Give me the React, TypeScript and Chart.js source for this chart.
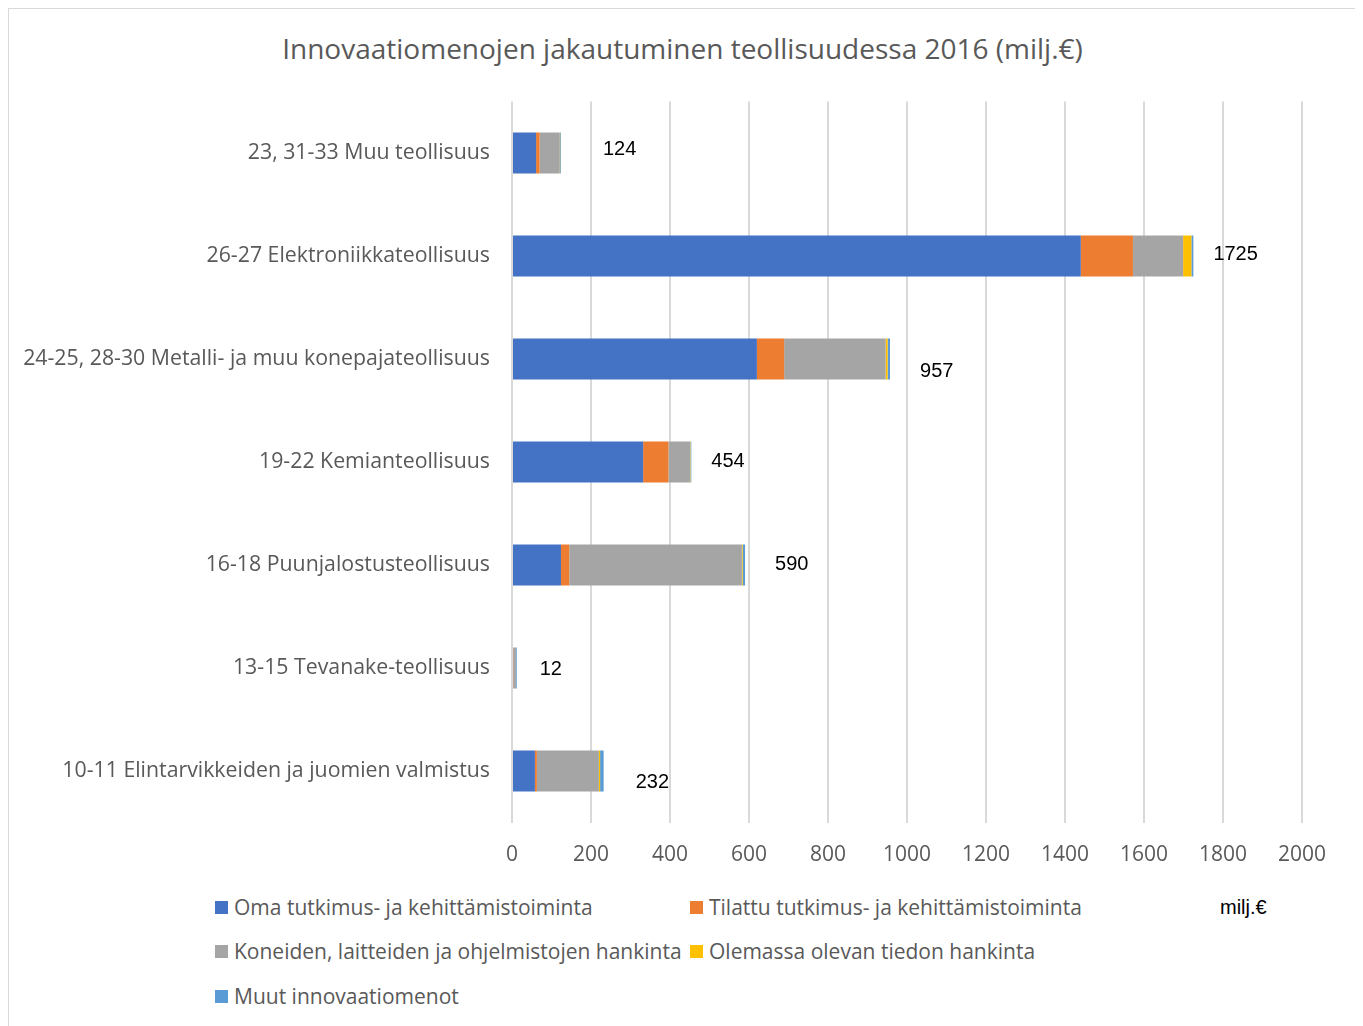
import React, { useEffect, useRef } from "react";
import { Chart, registerables } from "chart.js";

Chart.register(...registerables);

const categories = [
  "23, 31-33 Muu teollisuus",
  "26-27 Elektroniikkateollisuus",
  "24-25, 28-30 Metalli- ja muu konepajateollisuus",
  "19-22 Kemianteollisuus",
  "16-18 Puunjalostusteollisuus",
  "13-15 Tevanake-teollisuus",
  "10-11 Elintarvikkeiden ja juomien valmistus",
];

const seriesNames = [
  "Oma tutkimus- ja kehittämistoiminta",
  "Tilattu tutkimus- ja kehittämistoiminta",
  "Koneiden, laitteiden ja ohjelmistojen hankinta",
  "Olemassa olevan tiedon hankinta",
  "Muut innovaatiomenot",
];

const omaTK = [61, 1440, 620, 332, 124, 3, 58];
const tilattuTK = [9, 132, 69, 64, 21, 1, 5];
const koneidenHankinta = [51, 127, 257, 55, 437, 6, 157];
const tiedonHankinta = [1, 21, 5, 1, 2, 0, 3];
const muutMenot = [2, 5, 6, 2, 6, 2, 9];

const xTicks = [0, 200, 400, 600, 800, 1000, 1200, 1400, 1600, 1800, 2000];

const chartTitle = "Innovaatiomenojen jakautuminen teollisuudessa 2016 (milj.€)";
const unitLabel = "milj.€";

// styling
const colors = ["#4472C4", "#ED7D31", "#A5A5A5", "#FFC000", "#5B9BD5"];
const labelNudge = [
  [42, -4],
  [20, -2],
  [30, 12],
  [20, -1],
  [30, -1],
  [23, 1],
  [32, 11],
];

const FONT = "'Open Sans', Lato, sans-serif";
const TEXT = "#595959";

const totalsPlugin = {
  id: "totals",
  afterDatasetsDraw(chart: any) {
    const ctx = chart.ctx;
    const xs = chart.scales.x;
    const ys = chart.scales.y;
    ctx.save();
    ctx.font = "20px 'Liberation Sans', Arial, sans-serif";
    ctx.fillStyle = "#000000";
    ctx.textAlign = "left";
    ctx.textBaseline = "middle";
    categories.forEach((_, i) => {
      const total =
        omaTK[i] + tilattuTK[i] + koneidenHankinta[i] + tiedonHankinta[i] + muutMenot[i];
      const x = xs.getPixelForValue(total) + labelNudge[i][0];
      const y = ys.getPixelForValue(i) + labelNudge[i][1];
      ctx.fillText(String(total), x, y);
    });
    ctx.restore();
  },
};

export default function App() {
  const canvasRef = useRef<HTMLCanvasElement | null>(null);

  useEffect(() => {
    if (!canvasRef.current) return;
    const seriesData = [omaTK, tilattuTK, koneidenHankinta, tiedonHankinta, muutMenot];
    const chart = new Chart(canvasRef.current, {
      type: "bar",
      data: {
        labels: categories,
        datasets: seriesNames.map((name, k) => ({
          label: name,
          data: seriesData[k],
          backgroundColor: colors[k],
          borderWidth: 0,
          barPercentage: 0.4,
          categoryPercentage: 1,
        })),
      },
      options: {
        indexAxis: "y",
        animation: false,
        responsive: false,
        maintainAspectRatio: false,
        layout: { padding: { top: 92.5, left: 0, right: 54, bottom: 6.5 } },
        plugins: {
          legend: { display: false },
          title: { display: false },
          tooltip: { enabled: false },
        },
        scales: {
          x: {
            stacked: true,
            min: 0,
            max: 2000,
            afterBuildTicks(scale: any) {
              scale.ticks = xTicks.map((v) => ({ value: v }));
            },
            afterFit(scale: any) {
              scale.height = 60;
            },
            grid: { color: "#d9d9d9", lineWidth: 2, drawTicks: false },
            border: { display: false },
            ticks: {
              color: TEXT,
              font: { family: FONT, size: 21 },
              padding: 20,
              maxRotation: 0,
              callback: (v: any) => String(v),
            },
          },
          y: {
            stacked: true,
            afterFit(scale: any) {
              scale.width = 503;
            },
            grid: { display: false, drawTicks: false },
            border: { display: false },
            ticks: {
              color: TEXT,
              font: { family: FONT, size: 21.3 },
              padding: 22,
            },
          },
        },
      },
      plugins: [totalsPlugin],
    } as any);
    return () => chart.destroy();
  }, []);

  const legendItem = (k: number, left: number, top: number) => (
    <div
      key={k}
      style={{
        position: "absolute",
        left,
        top,
        height: 26,
        display: "flex",
        alignItems: "center",
        fontFamily: FONT,
        fontSize: 21,
        color: TEXT,
        whiteSpace: "nowrap",
      }}
    >
      <span
        style={{
          display: "inline-block",
          width: 13,
          height: 13,
          background: colors[k],
          marginRight: 6,
        }}
      />
      {seriesNames[k]}
    </div>
  );

  return (
    <div
      style={{
        position: "relative",
        width: 1347,
        height: 1030,
        border: "1px solid #d9d9d9",
        background: "#ffffff",
        overflow: "hidden",
      }}
    >
      <div
        style={{
          position: "absolute",
          left: 0,
          top: 21,
          width: "100%",
          height: 36,
          lineHeight: "36px",
          textAlign: "center",
          fontFamily: FONT,
          fontSize: 28,
          color: TEXT,
        }}
      >
        {chartTitle}
      </div>
      <canvas
        ref={canvasRef}
        width={1347}
        height={880}
        style={{ position: "absolute", left: 0, top: 0, width: 1347, height: 880 }}
      />
      {legendItem(0, 206, 885)}
      {legendItem(1, 681, 885)}
      {legendItem(2, 206, 929)}
      {legendItem(3, 681, 929)}
      {legendItem(4, 206, 974)}
      <div
        style={{
          position: "absolute",
          left: 1211,
          top: 885,
          height: 26,
          lineHeight: "26px",
          fontFamily: "'Liberation Sans', Arial, sans-serif",
          fontSize: 20,
          color: "#000000",
        }}
      >
        {unitLabel}
      </div>
    </div>
  );
}
